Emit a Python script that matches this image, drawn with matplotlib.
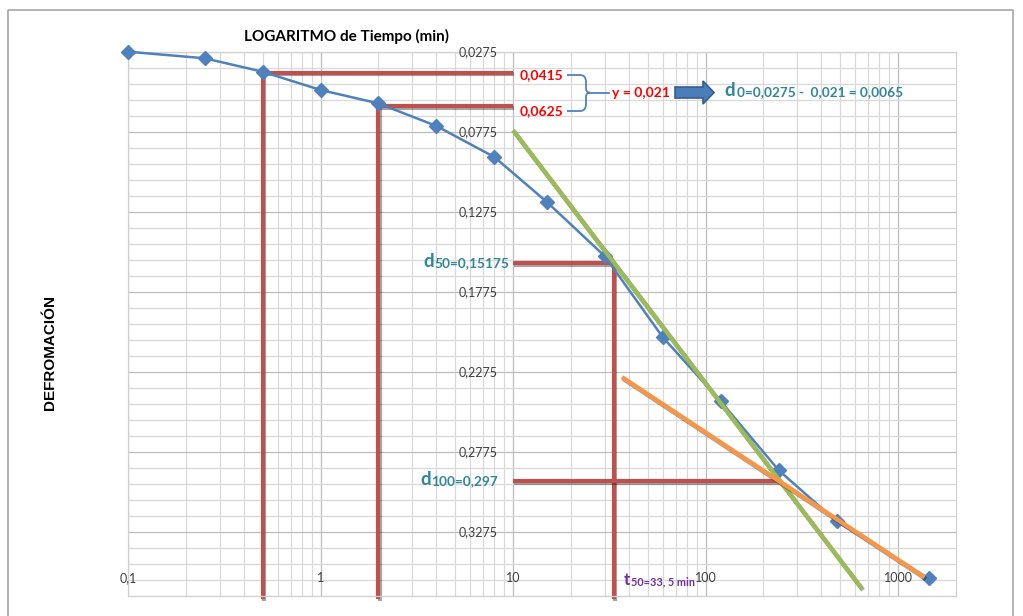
import matplotlib
matplotlib.use('Agg')
import matplotlib.pyplot as plt
import matplotlib.patheffects as pe
import matplotlib.patches as mpatches
from matplotlib.transforms import Affine2D
from matplotlib.path import Path
from matplotlib.lines import Line2D
import numpy as np

W, H = 1023, 616

# ---- data ----
tiempo = [0.1, 0.25, 0.5, 1, 2, 4, 8, 15, 30, 60, 120, 240, 480, 1440]
deformacion = [0.0275, 0.0316, 0.0400, 0.0514, 0.0598, 0.0739, 0.0933,
               0.1214, 0.1553, 0.2059, 0.2459, 0.2890, 0.3209, 0.3565]

x_ticks = [0.1, 1, 10, 100, 1000]
x_tick_labels = ['0,1', '1', '10', '100', '1000']
y_ticks = [0.0275, 0.0775, 0.1275, 0.1775, 0.2275, 0.2775, 0.3275]
y_tick_labels = ['0,0275', '0,0775', '0,1275', '0,1775', '0,2275', '0,2775', '0,3275']

# construction lines (as drawn)
t_a, d_a = 0.5, 0.0405
t_b, d_b = 2, 0.0614
t50, d50 = 33.5, 0.1596
t100, d100 = 243, 0.2956
green_t = [10, 647]
green_d = [0.0765, 0.3627]
orange_t = [36.8, 1373]
orange_d = [0.2308, 0.3558]

x_min, x_max = 0.1, 2000
y_top, y_bot = 0.0275, 0.3675
y_cross_x = 10

RED = '#C0504D'
BLUE = '#4F81BD'
GREEN = '#9BBB59'
ORANGE = '#F79646'
TEAL = '#31859C'
PURPLE = '#7030A0'

fig = plt.figure(figsize=(W / 100, H / 100), dpi=100)
fig.patch.set_facecolor('white')
ax = fig.add_axes([128 / W, 1 - 596 / H, (956 - 128) / W, (596 - 51.7) / H])
ax.set_xscale('log')
ax.set_xlim(x_min, x_max)
ax.set_ylim(y_bot, y_top)

# grid
xmaj = x_ticks
xmin = [k * 10.0 ** n for n in range(-1, 3) for k in range(2, 10)]
ymaj = y_ticks
yall = list(np.round(np.arange(0.0275, 0.3676, 0.01), 4))
ymin = [v for v in yall if all(abs(v - m) > 1e-6 for m in ymaj)]
ax.set_xticks(xmaj)
ax.set_xticks(xmin, minor=True)
ax.set_yticks(ymaj)
ax.set_yticks(ymin, minor=True)
ax.tick_params(which='both', length=0, labelbottom=False, labelleft=False)
ax.grid(which='major', color='#BCBCBC', lw=0.9, zorder=0)
ax.grid(which='minor', color='#D9D9D9', lw=0.9, zorder=0)
ax.set_axisbelow(True)
for s in ax.spines.values():
    s.set_color('#D0D0D0')
    s.set_linewidth(0.9)

shadow = [pe.SimpleLineShadow(offset=(1.0, -1.3), shadow_color='black', alpha=0.35), pe.Normal()]

# red construction lines
red_kw = dict(color=RED, lw=3, zorder=2, clip_on=False, path_effects=shadow, solid_capstyle='butt')
ax.plot([t_a, y_cross_x], [d_a, d_a], **red_kw)
ax.plot([t_a, t_a], [d_a, 0.3695], **red_kw)
ax.plot([t_b, y_cross_x], [d_b, d_b], **red_kw)
ax.plot([t_b, t_b], [d_b, 0.3695], **red_kw)
ax.plot([y_cross_x, t50], [d50, d50], **red_kw)
ax.plot([t50, t50], [d50, 0.3695], **red_kw)
ax.plot([y_cross_x, t100], [d100, d100], **red_kw)

# data series
ax.plot(tiempo, deformacion, color=BLUE, lw=1.8, marker='D', ms=7,
        markeredgecolor=BLUE, zorder=3, clip_on=False)

# tangents
ax.plot(green_t, green_d, color=GREEN, lw=3.2, zorder=4, path_effects=shadow,
        solid_capstyle='butt', clip_on=False)
ax.plot(orange_t, orange_d, color=ORANGE, lw=3.2, zorder=4, path_effects=shadow,
        solid_capstyle='butt', clip_on=False)

FONT = ['Lato', 'DejaVu Sans']

# tick labels
for t, lab in zip(x_ticks, x_tick_labels):
    ax.annotate(lab, xy=(t, y_bot), xytext=(0, 18 * 0.72), textcoords='offset points',
                ha='center', va='center', fontsize=9, family=FONT, color='#404040')
for v, lab in zip(y_ticks, y_tick_labels):
    ax.annotate(lab, xy=(y_cross_x, v), xytext=(-15 * 0.72, 0), textcoords='offset points',
                ha='right', va='center', fontsize=9, family=FONT, color='#404040')

# pixel transform for annotations
pxT = Affine2D().scale(1 / W, -1 / H).translate(0, 1) + fig.transFigure

fig.text(347, 40.7, 'LOGARITMO de Tiempo (min)', transform=pxT, ha='center', va='baseline',
         fontsize=11, fontweight='bold', family=FONT, color='#000000')
fig.text(50, 352, 'DEFROMACIÓN', transform=pxT, ha='center', va='center', rotation=90,
         fontsize=11, fontweight='bold', family=['Liberation Sans', 'DejaVu Sans'])

fig.text(520, 79.3, '0,0415', transform=pxT, ha='left', va='baseline', fontsize=10,
         fontweight='bold', family=FONT, color='#FF0000')
fig.text(520, 115, '0,0625', transform=pxT, ha='left', va='baseline', fontsize=10,
         fontweight='bold', family=FONT, color='#FF0000')
fig.text(612, 96.7, 'y = 0,021', transform=pxT, ha='left', va='baseline', fontsize=10,
         fontweight='bold', family=FONT, color='#FF0000')

# brace
verts = [(567, 75), (580, 75), (586, 75), (586, 82), (586, 88), (586, 92.7), (590, 92.7),
         (586, 92.7), (586, 97), (586, 104), (586, 111), (580, 111), (567, 111)]
codes = [Path.MOVETO, Path.LINETO, Path.CURVE3, Path.CURVE3, Path.LINETO, Path.CURVE3, Path.CURVE3,
         Path.CURVE3, Path.CURVE3, Path.LINETO, Path.CURVE3, Path.CURVE3, Path.LINETO]
fig.add_artist(mpatches.PathPatch(Path(verts, codes), transform=pxT, fill=False,
                                  edgecolor=BLUE, lw=1.3))
fig.add_artist(Line2D([590, 609], [92.7, 92.7], transform=pxT, color=BLUE, lw=1.3))

# block arrow
arrow = [(675, 87), (703, 87), (703, 81), (714, 92.5), (703, 104), (703, 98), (675, 98)]
fig.add_artist(mpatches.Polygon(arrow, closed=True, transform=pxT, facecolor='#4A7EBB',
                                edgecolor='#385D8A', lw=1.2))

fig.text(724, 96, 'd', transform=pxT, ha='left', va='baseline', fontsize=13.5,
         fontweight='bold', family=FONT, color=TEAL)
fig.text(737, 96, '0=0,0275 -  0,021 = 0,0065', transform=pxT, ha='left', va='baseline',
         fontsize=9.8, fontweight='bold', family=FONT, color=TEAL)

fig.text(423, 266.7, 'd', transform=pxT, ha='left', va='baseline', fontsize=13.5,
         fontweight='bold', family=FONT, color=TEAL)
fig.text(434, 266.7, '50=0,15175', transform=pxT, ha='left', va='baseline',
         fontsize=9.8, fontweight='bold', family=FONT, color=TEAL)

fig.text(420, 485, 'd', transform=pxT, ha='left', va='baseline', fontsize=13.5,
         fontweight='bold', family=FONT, color=TEAL)
fig.text(431, 485, '100=0,297', transform=pxT, ha='left', va='baseline',
         fontsize=9.8, fontweight='bold', family=FONT, color=TEAL)

fig.text(624, 585, 't', transform=pxT, ha='left', va='baseline', fontsize=12.5,
         fontweight='bold', family=FONT, color=PURPLE)
fig.text(631, 585, '50=33, 5 min', transform=pxT, ha='left', va='baseline',
         fontsize=7.8, fontweight='bold', family=FONT, color=PURPLE)

# chart-area border
fig.add_artist(Line2D([8, 8, 1013, 1013], [640, 10, 10, 640], transform=pxT,
                      color='#A6A6A6', lw=1.2))

fig.savefig('out.png', dpi=100, facecolor='white')
